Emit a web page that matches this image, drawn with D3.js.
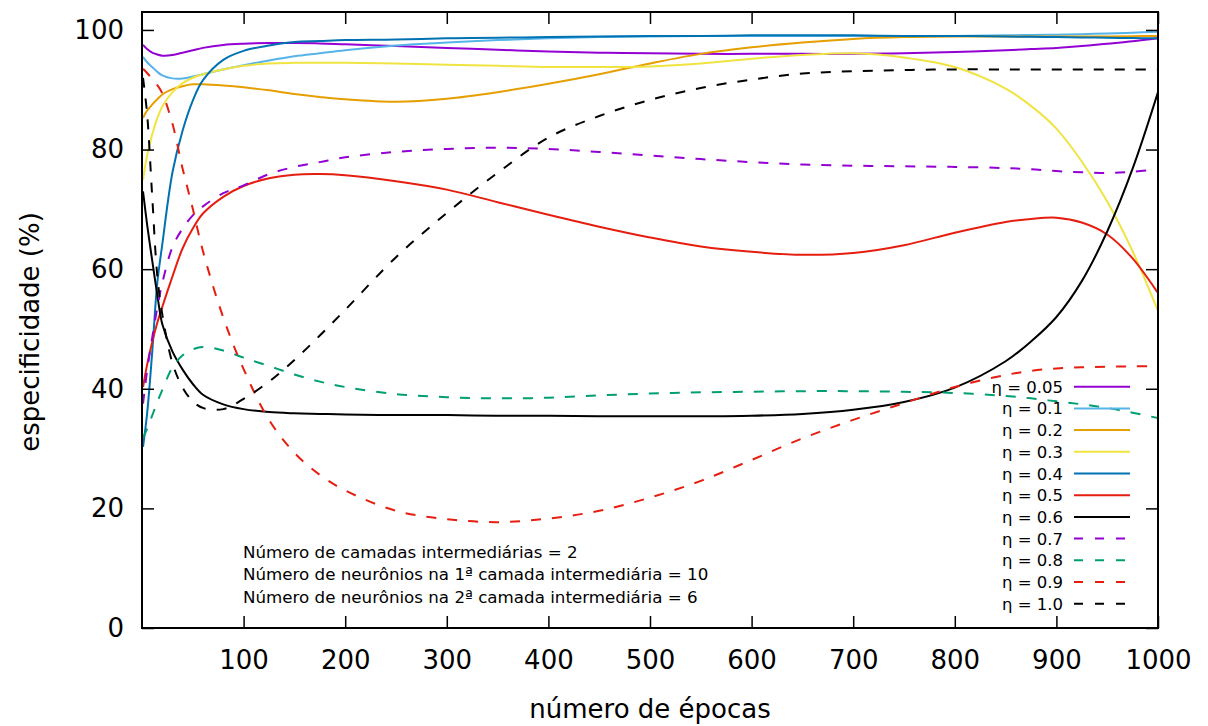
<!DOCTYPE html>
<html>
<head>
<meta charset="utf-8">
<script src="https://cdn.jsdelivr.net/npm/d3@7"></script>
<style>
    body { margin: 0; background: #fff; }
    svg { font-family: "DejaVu Sans", sans-serif; }
</style>
</head>
<body>
<svg id="chart" width="1208" height="726"></svg>
<script>
const epochs = [1, 5, 10, 15, 20, 30, 40, 50, 60, 80, 100, 125, 150, 175, 200, 250, 300, 350, 400, 450, 500, 550, 600, 650, 700, 750, 800, 850, 875, 900, 925, 950, 975, 1000];

const eta005 = [97.5, 96.8, 96.2, 95.9, 95.7, 95.8, 96.2, 96.6, 97.0, 97.5, 97.7, 97.8, 97.8, 97.75, 97.6, 97.3, 97.0, 96.7, 96.4, 96.2, 96.1, 96.0, 96.0, 96.0, 96.0, 96.1, 96.3, 96.6, 96.8, 97.0, 97.3, 97.7, 98.1, 98.6];
const eta01 = [95.5, 94.6, 93.8, 93.0, 92.4, 91.9, 91.9, 92.2, 92.6, 93.4, 94.1, 94.9, 95.6, 96.1, 96.6, 97.4, 97.9, 98.3, 98.6, 98.8, 98.9, 99.0, 99.0, 99.0, 99.0, 99.0, 99.0, 99.1, 99.15, 99.2, 99.3, 99.4, 99.55, 99.7];
const eta02 = [85.3, 86.5, 87.5, 88.4, 89.2, 90.1, 90.6, 90.9, 90.9, 90.7, 90.4, 89.9, 89.3, 88.8, 88.4, 88.0, 88.5, 89.6, 91.0, 92.6, 94.4, 96.0, 97.1, 97.9, 98.5, 98.8, 98.9, 98.9, 98.9, 98.9, 98.9, 98.9, 98.95, 99.0];
const eta03 = [74.9, 79.0, 82.5, 85.2, 87.2, 89.6, 91.1, 92.0, 92.6, 93.4, 94.0, 94.4, 94.5, 94.5, 94.5, 94.4, 94.2, 94.0, 93.8, 93.8, 93.9, 94.4, 95.2, 95.8, 96.1, 95.4, 93.8, 90.2, 87.3, 83.5, 78.0, 71.3, 63.0, 53.0];
const eta04 = [30.3, 35.8, 46.0, 57.6, 64.2, 76.2, 83.2, 88.2, 91.6, 95.0, 96.5, 97.4, 98.0, 98.15, 98.3, 98.4, 98.6, 98.7, 98.8, 98.9, 99.0, 99.0, 99.1, 99.1, 99.1, 99.0, 99.0, 98.9, 98.85, 98.8, 98.75, 98.7, 98.65, 98.6];
const eta05 = [40.3, 44.0, 47.8, 51.0, 53.7, 58.8, 63.5, 66.8, 69.3, 72.1, 73.9, 75.2, 75.8, 75.9, 75.7, 74.7, 73.3, 71.2, 69.1, 67.1, 65.3, 63.8, 62.9, 62.4, 62.7, 64.0, 66.1, 67.9, 68.4, 68.6, 67.8, 65.8, 61.8, 56.0];
const eta06 = [73.0, 67.5, 61.5, 55.8, 50.8, 46.2, 43.2, 40.8, 39.0, 37.4, 36.6, 36.1, 35.9, 35.8, 35.7, 35.6, 35.6, 35.5, 35.5, 35.4, 35.4, 35.4, 35.5, 35.8, 36.5, 37.8, 40.2, 44.6, 47.9, 52.0, 58.0, 66.3, 76.8, 89.6];
const eta07 = [37.5, 43.0, 48.5, 53.5, 57.7, 63.7, 66.8, 69.0, 70.5, 72.7, 74.0, 75.9, 77.1, 77.9, 78.7, 79.6, 80.1, 80.3, 80.1, 79.6, 79.0, 78.4, 77.9, 77.5, 77.3, 77.2, 77.1, 76.9, 76.7, 76.4, 76.2, 76.1, 76.3, 76.7];
const eta08 = [31.8, 33.3, 35.5, 37.8, 39.8, 43.6, 45.6, 46.6, 47.0, 46.4, 45.2, 43.8, 42.4, 41.2, 40.3, 39.1, 38.6, 38.4, 38.5, 38.9, 39.2, 39.4, 39.5, 39.6, 39.6, 39.5, 39.3, 38.8, 38.4, 37.9, 37.4, 36.8, 36.0, 35.1];
const eta09 = [93.5, 92.8, 91.8, 90.8, 89.4, 84.3, 76.8, 70.1, 63.0, 51.9, 43.3, 34.8, 29.3, 25.6, 23.0, 19.6, 18.2, 17.7, 18.3, 19.6, 21.8, 24.6, 28.1, 31.7, 34.8, 37.6, 40.3, 42.3, 43.0, 43.4, 43.6, 43.7, 43.75, 43.8];
const eta10 = [92.0, 86.0, 72.3, 59.0, 52.4, 44.3, 40.2, 37.9, 36.8, 36.6, 38.3, 41.2, 44.8, 48.9, 53.2, 62.0, 69.4, 76.1, 82.0, 85.6, 88.3, 90.3, 91.7, 92.7, 93.1, 93.3, 93.4, 93.4, 93.4, 93.4, 93.4, 93.4, 93.4, 93.4];

const etaLabels = ["η = 0.05", "η = 0.1", "η = 0.2", "η = 0.3", "η = 0.4", "η = 0.5", "η = 0.6", "η = 0.7", "η = 0.8", "η = 0.9", "η = 1.0"];
const xTicks = [100, 200, 300, 400, 500, 600, 700, 800, 900, 1000];
const yTicks = [0, 20, 40, 60, 80, 100];
const noteLines = [
    "Número de camadas intermediárias = 2",
    "Número de neurônios na 1ª camada intermediária = 10",
    "Número de neurônios na 2ª camada intermediária = 6",
];

const series = [
    { values: eta005, color: "#9400d3", dashed: false },
    { values: eta01, color: "#56b4e9", dashed: false },
    { values: eta02, color: "#e69f00", dashed: false },
    { values: eta03, color: "#f0e442", dashed: false },
    { values: eta04, color: "#0072b2", dashed: false },
    { values: eta05, color: "#e51e10", dashed: false },
    { values: eta06, color: "#000000", dashed: false },
    { values: eta07, color: "#9400d3", dashed: true },
    { values: eta08, color: "#009e73", dashed: true },
    { values: eta09, color: "#e51e10", dashed: true },
    { values: eta10, color: "#000000", dashed: true },
];

const plotLeft = 142, plotTop = 12, plotRight = 1158, plotBottom = 628;
const svg = d3.select("#chart");

const x = d3.scaleLinear().domain([0, 1000]).range([plotLeft, plotRight]);
const y = d3.scaleLinear().domain([0, 103]).range([plotBottom, plotTop]);

svg.append("defs")
    .append("clipPath")
    .attr("id", "plot")
    .append("rect")
    .attr("x", plotLeft)
    .attr("y", plotTop)
    .attr("width", plotRight - plotLeft)
    .attr("height", plotBottom - plotTop);

const line = d3
    .line()
    .x((d) => x(d[0]))
    .y((d) => y(d[1]))
    .curve(d3.curveCatmullRom.alpha(0.5));

svg.append("g")
    .attr("clip-path", "url(#plot)")
    .selectAll("path")
    .data(series)
    .enter()
    .append("path")
    .attr("d", (s) => line(epochs.map((e, i) => [e, s.values[i]])))
    .attr("fill", "none")
    .attr("stroke", (s) => s.color)
    .attr("stroke-width", 2)
    .attr("stroke-dasharray", (s) => (s.dashed ? "10,11" : null));

// axes: ticks point inward, mirrored on top/right
const fontSize = 26;
const styleAxis = (g) => {
    g.select(".domain").remove();
    g.selectAll(".tick line").attr("stroke", "#000").attr("stroke-width", 1.5);
    g.selectAll("text").attr("font-size", fontSize).attr("fill", "#000").attr("font-family", "DejaVu Sans");
};

svg.append("g")
    .attr("transform", `translate(0,${plotBottom})`)
    .call(d3.axisBottom(x).tickValues(xTicks).tickFormat(d3.format("d")).tickSize(-12).tickPadding(23))
    .call(styleAxis);
svg.append("g")
    .attr("transform", `translate(0,${plotTop})`)
    .call(d3.axisTop(x).tickValues(xTicks).tickSize(-12).tickFormat(""))
    .call(styleAxis);
svg.append("g")
    .attr("transform", `translate(${plotLeft},0)`)
    .call(d3.axisLeft(y).tickValues(yTicks).tickFormat(d3.format("d")).tickSize(-12).tickPadding(18))
    .call(styleAxis);
svg.append("g")
    .attr("transform", `translate(${plotRight},0)`)
    .call(d3.axisRight(y).tickValues(yTicks).tickSize(-12).tickFormat(""))
    .call(styleAxis);

svg.append("rect")
    .attr("x", plotLeft)
    .attr("y", plotTop)
    .attr("width", plotRight - plotLeft)
    .attr("height", plotBottom - plotTop)
    .attr("fill", "none")
    .attr("stroke", "#000")
    .attr("stroke-width", 2);

svg.append("text")
    .attr("x", (plotLeft + plotRight) / 2)
    .attr("y", 718)
    .attr("text-anchor", "middle")
    .attr("font-size", fontSize)
    .text("número de épocas");

svg.append("text")
    .attr("transform", `translate(39,${(plotTop + plotBottom) / 2 + 12}) rotate(-90)`)
    .attr("text-anchor", "middle")
    .attr("font-size", fontSize)
    .text("especificidade (%)");

// legend
const legend = svg.append("g").attr("font-size", 16.5);
series.forEach((s, i) => {
    const cy = 386.7 + i * 21.7;
    legend.append("text")
        .attr("x", 1063)
        .attr("y", cy + 6)
        .attr("text-anchor", "end")
        .text(etaLabels[i]);
    legend.append("line")
        .attr("x1", 1074)
        .attr("x2", 1130)
        .attr("y1", cy)
        .attr("y2", cy)
        .attr("stroke", s.color)
        .attr("stroke-width", 2)
        .attr("stroke-dasharray", s.dashed ? "9,12" : null);
});

svg.append("g")
    .attr("font-size", 16.7)
    .selectAll("text")
    .data(noteLines)
    .enter()
    .append("text")
    .attr("x", 243)
    .attr("y", (d, i) => 558 + i * 22.4)
    .text((d) => d);
</script>
</body>
</html>
